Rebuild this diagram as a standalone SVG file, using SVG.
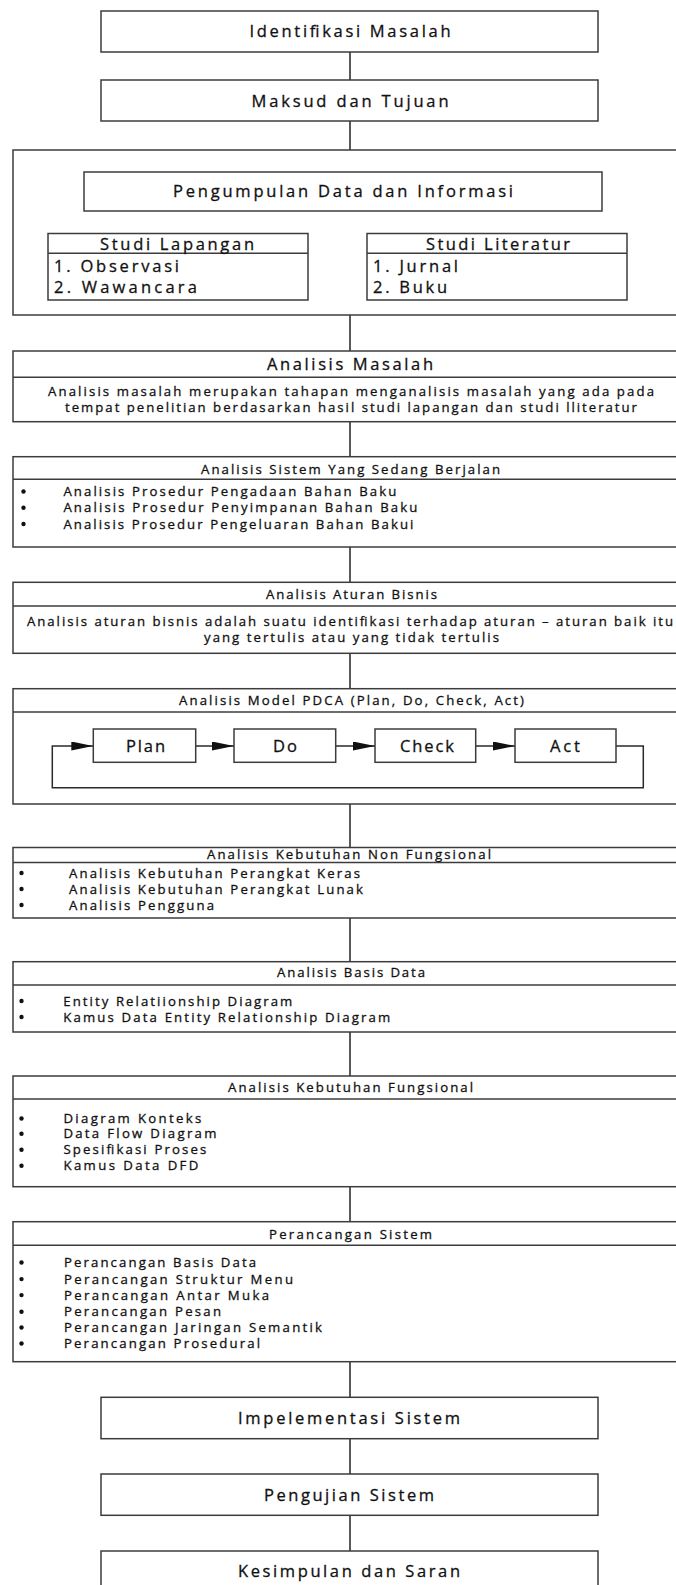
<svg xmlns="http://www.w3.org/2000/svg" width="676" height="1585" viewBox="0 0 676 1585">
<style>
.box{fill:#fff;stroke:#3c3c3c;stroke-width:1.5}
.div{stroke:#3c3c3c;stroke-width:1.5;fill:none}
.con{stroke:#5a5a5a;stroke-width:2;fill:none}
.loop{stroke:#2a2a2a;stroke-width:1.5;fill:none}
.dot{fill:#111}
text{font-family:"Open Sans","Noto Sans","DejaVu Sans",sans-serif;fill:#111;stroke:#111;stroke-width:0.3}
.big{font-size:16.5px}
.sm{font-size:13.2px}
</style>
<defs>
<marker id="ah" markerUnits="userSpaceOnUse" viewBox="0 0 22 9" refX="22" refY="4.5" markerWidth="22" markerHeight="9" orient="auto">
<path d="M0,0 L22,4.5 L0,9 z" fill="#111"/>
</marker>
</defs>
<rect width="676" height="1585" fill="#fff"/>
<g id="connectors">
<line class="con" x1="350" y1="52" x2="350" y2="80"/>
<line class="con" x1="350" y1="121" x2="350" y2="150"/>
<line class="con" x1="350" y1="315" x2="350" y2="351"/>
<line class="con" x1="350" y1="422" x2="350" y2="457"/>
<line class="con" x1="350" y1="547" x2="350" y2="582"/>
<line class="con" x1="350" y1="653" x2="350" y2="689"/>
<line class="con" x1="350" y1="804" x2="350" y2="848"/>
<line class="con" x1="350" y1="918" x2="350" y2="962"/>
<line class="con" x1="350" y1="1032" x2="350" y2="1076"/>
<line class="con" x1="350" y1="1187" x2="350" y2="1222"/>
<line class="con" x1="350" y1="1362" x2="350" y2="1397"/>
<line class="con" x1="350" y1="1439" x2="350" y2="1474"/>
<line class="con" x1="350" y1="1515" x2="350" y2="1551"/>
</g>
<g id="identifikasi">
<rect class="box" x="101" y="11" width="497" height="41"/>
<text class="big" x="249.5" y="37" textLength="201" lengthAdjust="spacing">Identifikasi Masalah</text>
</g>
<g id="maksud">
<rect class="box" x="101" y="80" width="497" height="41"/>
<text class="big" x="251.5" y="106.5" textLength="197" lengthAdjust="spacing">Maksud dan Tujuan</text>
</g>
<g id="pengumpulan">
<rect class="box" x="13" y="150" width="690" height="165"/>
<rect class="box" x="84" y="172" width="518" height="39"/>
<text class="big" x="173" y="197" textLength="340" lengthAdjust="spacing">Pengumpulan Data dan Informasi</text>
</g>
<g id="studi-lapangan">
<rect class="box" x="48" y="233.5" width="260" height="66.5"/>
<line class="div" x1="48" y1="253.3" x2="308" y2="253.3"/>
<text class="big" x="100" y="249.5" textLength="154" lengthAdjust="spacing">Studi Lapangan</text>
<text class="big" x="54" y="272" textLength="125" lengthAdjust="spacing">1. Observasi</text>
<text class="big" x="54" y="292.5" textLength="143" lengthAdjust="spacing">2. Wawancara</text>
</g>
<g id="studi-literatur">
<rect class="box" x="367" y="233.5" width="260" height="66.5"/>
<line class="div" x1="367" y1="253.3" x2="627" y2="253.3"/>
<text class="big" x="426" y="249.5" textLength="144" lengthAdjust="spacing">Studi Literatur</text>
<text class="big" x="373" y="272" textLength="85" lengthAdjust="spacing">1. Jurnal</text>
<text class="big" x="373" y="292.5" textLength="74" lengthAdjust="spacing">2. Buku</text>
</g>
<g id="analisis-masalah">
<rect class="box" x="13" y="351" width="690" height="70.7"/>
<line class="div" x1="13" y1="377.3" x2="703" y2="377.3"/>
<text class="big" x="267" y="369.5" textLength="166" lengthAdjust="spacing">Analisis Masalah</text>
<text class="sm" x="48" y="395.5" textLength="606" lengthAdjust="spacing">Analisis masalah merupakan tahapan menganalisis masalah yang ada pada</text>
<text class="sm" x="65" y="412" textLength="572" lengthAdjust="spacing">tempat penelitian berdasarkan hasil studi lapangan dan studi lliteratur</text>
</g>
<g id="analisis-sistem">
<rect class="box" x="13" y="456.7" width="690" height="90.3"/>
<line class="div" x1="13" y1="479.3" x2="703" y2="479.3"/>
<text class="sm" x="201" y="473.5" textLength="299" lengthAdjust="spacing">Analisis Sistem Yang Sedang Berjalan</text>
<circle class="dot" cx="23.5" cy="491.5" r="2.2"/>
<circle class="dot" cx="23.5" cy="507.8" r="2.2"/>
<circle class="dot" cx="23.5" cy="524" r="2.2"/>
<text class="sm" x="63.4" y="496" textLength="333" lengthAdjust="spacing">Analisis Prosedur Pengadaan Bahan Baku</text>
<text class="sm" x="63.4" y="512.3" textLength="354" lengthAdjust="spacing">Analisis Prosedur Penyimpanan Bahan Baku</text>
<text class="sm" x="63.4" y="528.6" textLength="350" lengthAdjust="spacing">Analisis Prosedur Pengeluaran Bahan Bakui</text>
</g>
<g id="aturan-bisnis">
<rect class="box" x="13" y="582.3" width="690" height="71"/>
<line class="div" x1="13" y1="606" x2="703" y2="606"/>
<text class="sm" x="266" y="598.5" textLength="171" lengthAdjust="spacing">Analisis Aturan Bisnis</text>
<text class="sm" x="27" y="626" textLength="646" lengthAdjust="spacing">Analisis aturan bisnis adalah suatu identifikasi terhadap aturan – aturan baik itu</text>
<text class="sm" x="204" y="642" textLength="295" lengthAdjust="spacing">yang tertulis atau yang tidak tertulis</text>
</g>
<g id="pdca">
<rect class="box" x="13" y="688.7" width="690" height="115.3"/>
<line class="div" x1="13" y1="712" x2="703" y2="712"/>
<text class="sm" x="179" y="705.3" textLength="345" lengthAdjust="spacing">Analisis Model PDCA (Plan, Do, Check, Act)</text>
<path class="loop" d="M616,746 H643.3 V787.7 H52.3 V746 H93.3" marker-end="url(#ah)"/>
<line class="loop" x1="195.7" y1="746" x2="234" y2="746" marker-end="url(#ah)"/>
<line class="loop" x1="335.7" y1="746" x2="375" y2="746" marker-end="url(#ah)"/>
<line class="loop" x1="475.7" y1="746" x2="515" y2="746" marker-end="url(#ah)"/>
</g>
<g id="plan">
<rect class="box" x="93.3" y="729" width="102.4" height="33.3"/>
<text class="big" x="126" y="751.5" textLength="39" lengthAdjust="spacing">Plan</text>
</g>
<g id="do">
<rect class="box" x="234" y="729" width="101.7" height="33.3"/>
<text class="big" x="273" y="751.5" textLength="24" lengthAdjust="spacing">Do</text>
</g>
<g id="check">
<rect class="box" x="375" y="729" width="100.7" height="33.3"/>
<text class="big" x="400" y="751.5" textLength="54" lengthAdjust="spacing">Check</text>
</g>
<g id="act">
<rect class="box" x="515" y="729" width="101" height="33.3"/>
<text class="big" x="550" y="751.5" textLength="30" lengthAdjust="spacing">Act</text>
</g>
<g id="non-fungsional">
<rect class="box" x="13" y="847.5" width="690" height="70.5"/>
<line class="div" x1="13" y1="862.5" x2="703" y2="862.5"/>
<text class="sm" x="207" y="858.5" textLength="284" lengthAdjust="spacing">Analisis Kebutuhan Non Fungsional</text>
<circle class="dot" cx="21.5" cy="873" r="2.2"/>
<circle class="dot" cx="21.5" cy="889" r="2.2"/>
<circle class="dot" cx="21.5" cy="905" r="2.2"/>
<text class="sm" x="69" y="877.5" textLength="291" lengthAdjust="spacing">Analisis Kebutuhan Perangkat Keras</text>
<text class="sm" x="69" y="893.5" textLength="294" lengthAdjust="spacing">Analisis Kebutuhan Perangkat Lunak</text>
<text class="sm" x="69" y="909.5" textLength="145" lengthAdjust="spacing">Analisis Pengguna</text>
</g>
<g id="basis-data">
<rect class="box" x="13" y="961.7" width="690" height="70.3"/>
<line class="div" x1="13" y1="985" x2="703" y2="985"/>
<text class="sm" x="277" y="977" textLength="148" lengthAdjust="spacing">Analisis Basis Data</text>
<circle class="dot" cx="21.5" cy="1001" r="2.2"/>
<circle class="dot" cx="21.5" cy="1017" r="2.2"/>
<text class="sm" x="63.3" y="1005.5" textLength="229" lengthAdjust="spacing">Entity Relatiionship Diagram</text>
<text class="sm" x="63.3" y="1021.5" textLength="327" lengthAdjust="spacing">Kamus Data Entity Relationship Diagram</text>
</g>
<g id="fungsional">
<rect class="box" x="13" y="1076" width="690" height="110.7"/>
<line class="div" x1="13" y1="1099" x2="703" y2="1099"/>
<text class="sm" x="228" y="1092" textLength="245" lengthAdjust="spacing">Analisis Kebutuhan Fungsional</text>
<circle class="dot" cx="21.5" cy="1118.5" r="2.2"/>
<circle class="dot" cx="21.5" cy="1133.8" r="2.2"/>
<circle class="dot" cx="21.5" cy="1149.8" r="2.2"/>
<circle class="dot" cx="21.5" cy="1165.8" r="2.2"/>
<text class="sm" x="63.4" y="1123" textLength="138" lengthAdjust="spacing">Diagram Konteks</text>
<text class="sm" x="63.4" y="1138.3" textLength="153" lengthAdjust="spacing">Data Flow Diagram</text>
<text class="sm" x="63.4" y="1154.3" textLength="143" lengthAdjust="spacing">Spesifikasi Proses</text>
<text class="sm" x="63.4" y="1170.3" textLength="135" lengthAdjust="spacing">Kamus Data DFD</text>
</g>
<g id="perancangan">
<rect class="box" x="13" y="1221.7" width="690" height="140"/>
<line class="div" x1="13" y1="1245.3" x2="703" y2="1245.3"/>
<text class="sm" x="269" y="1238.6" textLength="163" lengthAdjust="spacing">Perancangan Sistem</text>
<circle class="dot" cx="21.5" cy="1262.5" r="2.2"/>
<circle class="dot" cx="21.5" cy="1279.1" r="2.2"/>
<circle class="dot" cx="21.5" cy="1295.1" r="2.2"/>
<circle class="dot" cx="21.5" cy="1311.8" r="2.2"/>
<circle class="dot" cx="21.5" cy="1327.5" r="2.2"/>
<circle class="dot" cx="21.5" cy="1343.5" r="2.2"/>
<text class="sm" x="64" y="1267" textLength="192" lengthAdjust="spacing">Perancangan Basis Data</text>
<text class="sm" x="64" y="1283.6" textLength="229" lengthAdjust="spacing">Perancangan Struktur Menu</text>
<text class="sm" x="64" y="1299.6" textLength="205" lengthAdjust="spacing">Perancangan Antar Muka</text>
<text class="sm" x="64" y="1316.3" textLength="157" lengthAdjust="spacing">Perancangan Pesan</text>
<text class="sm" x="64" y="1332" textLength="258" lengthAdjust="spacing">Perancangan Jaringan Semantik</text>
<text class="sm" x="64" y="1348" textLength="196" lengthAdjust="spacing">Perancangan Prosedural</text>
</g>
<g id="implementasi">
<rect class="box" x="101" y="1397.3" width="497" height="41.4"/>
<text class="big" x="238" y="1423.8" textLength="222" lengthAdjust="spacing">Impelementasi Sistem</text>
</g>
<g id="pengujian">
<rect class="box" x="101" y="1474" width="497" height="41.3"/>
<text class="big" x="264" y="1500.5" textLength="170" lengthAdjust="spacing">Pengujian Sistem</text>
</g>
<g id="kesimpulan">
<rect class="box" x="101" y="1551" width="497" height="41"/>
<text class="big" x="238" y="1577" textLength="222" lengthAdjust="spacing">Kesimpulan dan Saran</text>
</g>
</svg>
